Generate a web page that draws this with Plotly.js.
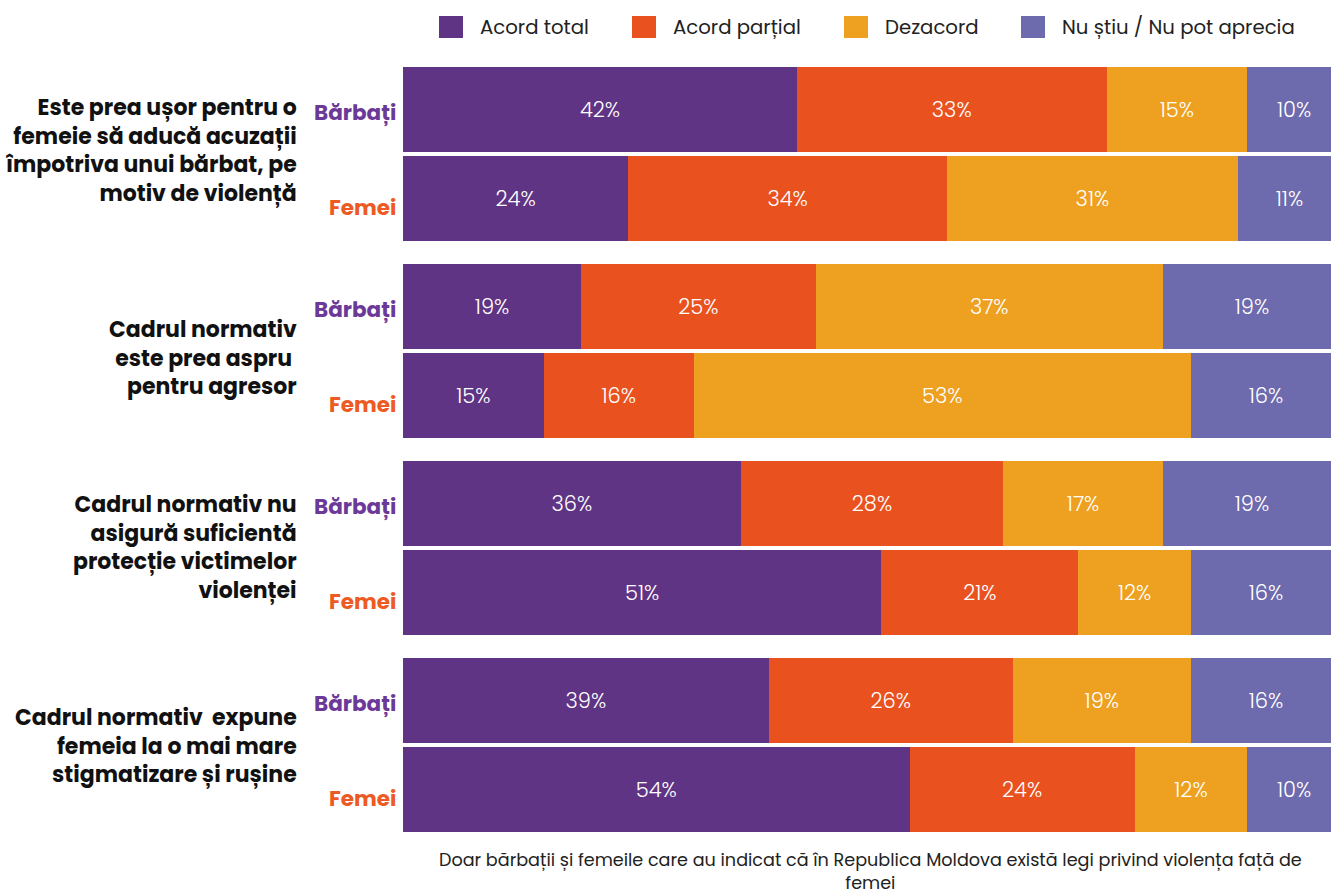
<!DOCTYPE html>
<html>
<head>
<meta charset="utf-8">
<script src="https://cdn.plot.ly/plotly-3.0.1.min.js"></script>
<style>html,body{margin:0;padding:0;background:#fff;overflow:hidden}#chart{width:1331px;height:890px}</style>
</head>
<body>
<div id="chart"></div>
<script>
// ---- data ----
const questions = [
  "Este prea ușor pentru o<br>femeie să aducă acuzații<br>împotriva unui bărbat, pe<br>motiv de violență",
  "Cadrul normativ<br>este prea aspru <br>pentru agresor",
  "Cadrul normativ nu<br>asigură suficientă<br>protecție victimelor<br>violenței",
  "Cadrul normativ  expune<br>femeia la o mai mare<br>stigmatizare și rușine"
];
const groups = ["Bărbați", "Femei"];
const seriesNames = ["Acord total", "Acord parțial", "Dezacord", "Nu știu / Nu pot aprecia"];
// rows order: Q1 Bărbați, Q1 Femei, Q2 Bărbați, Q2 Femei, ...
const acordTotal   = [42, 24, 19, 15, 36, 51, 39, 54];
const acordPartial = [33, 34, 25, 16, 28, 21, 26, 24];
const dezacord     = [15, 31, 37, 53, 17, 12, 19, 12];
const nuStiu       = [10, 11, 19, 16, 19, 16, 16, 10];
const footnote = "Doar bărbații și femeile care au indicat că în Republica Moldova există legi privind violența față de<br>femei";

// ---- styling / layout ----
const colors = ["#5f3484", "#e9521f", "#eea020", "#6d6aad"];
const FONT = "Poppins, Inter, 'Open Sans', sans-serif";
const W = 1331, H = 890;
const mL = 403, mR = 0, mT = 60, mB = 50;
const plotW = W - mL - mR, plotH = H - mT - mB;
const pxPerUnit = 9.38;
const rowY = [];
for (let g = 0; g < questions.length; g++) {
  for (let s = 0; s < groups.length; s++) rowY.push(g * 197 + s * 89);
}
const barW = 85;
const yTop = -42.5 - 7, yBot = yTop + plotH;
const labelShift = [-4, 7, -1, 1];   // vertical nudge of question labels (px)

const seriesVals = [acordTotal, acordPartial, dezacord, nuStiu];
const traces = seriesVals.map((vals, i) => ({
  type: "bar",
  orientation: "h",
  name: seriesNames[i],
  x: vals,
  y: rowY,
  width: barW,
  marker: {color: colors[i], line: {width: 0}},
  text: vals.map(v => v + "%"),
  textposition: "inside",
  insidetextanchor: "middle",
  textangle: 0,
  constraintext: "none",
  textfont: {color: "#ffffff", size: 21, family: FONT, weight: 300},
  hoverinfo: "skip",
  showlegend: false
}));

const px2x = px => (px - mL) / plotW;
const px2y = py => (H - mB - py) / plotH;

const annotations = [];
const shapes = [];
// question labels
questions.forEach((q, g) => {
  annotations.push({
    xref: "paper", yref: "y",
    x: px2x(299), y: (rowY[g * 2] + rowY[g * 2 + 1]) / 2 + labelShift[g],
    xanchor: "right", yanchor: "middle", align: "right",
    text: "<b>" + q + "</b>", showarrow: false,
    font: {family: FONT, size: 22, color: "#111111"}
  });
});
// group labels
rowY.forEach((y, r) => {
  const s = r % 2;
  annotations.push({
    xref: "paper", yref: "y",
    x: px2x(398), y: y + (s === 0 ? 3 : 9),
    xanchor: "right", yanchor: "middle",
    text: "<b>" + groups[s] + "</b>", showarrow: false,
    font: {family: FONT, size: 21.5, color: s === 0 ? "#6b3a98" : "#ee5a23"}
  });
});
// manual legend
const legX = [439, 632, 844, 1021];
seriesNames.forEach((n, i) => {
  shapes.push({
    type: "rect", xref: "paper", yref: "paper",
    x0: px2x(legX[i]), x1: px2x(legX[i] + 24),
    y0: px2y(38), y1: px2y(16),
    fillcolor: colors[i], line: {width: 0}
  });
  annotations.push({
    xref: "paper", yref: "paper",
    x: px2x(legX[i] + 39), y: px2y(27),
    xanchor: "left", yanchor: "middle",
    text: n, showarrow: false,
    font: {family: FONT, size: 19.7, color: "#222222"}
  });
});
// footnote
annotations.push({
  xref: "paper", yref: "paper",
  x: px2x(870), y: px2y(846),
  xanchor: "center", yanchor: "top", align: "center",
  text: footnote, showarrow: false,
  font: {family: FONT, size: 17.6, color: "#222222"}
});

const layout = {
  width: W, height: H,
  margin: {l: mL, r: mR, t: mT, b: mB, pad: 0},
  paper_bgcolor: "#ffffff", plot_bgcolor: "#ffffff",
  barmode: "stack",
  showlegend: false,
  font: {family: FONT},
  xaxis: {range: [0, plotW / pxPerUnit], visible: false, fixedrange: true},
  yaxis: {range: [yBot, yTop], visible: false, fixedrange: true},
  annotations: annotations,
  shapes: shapes
};

Plotly.newPlot("chart", traces, layout, {displayModeBar: false, staticPlot: true});
</script>
</body>
</html>
